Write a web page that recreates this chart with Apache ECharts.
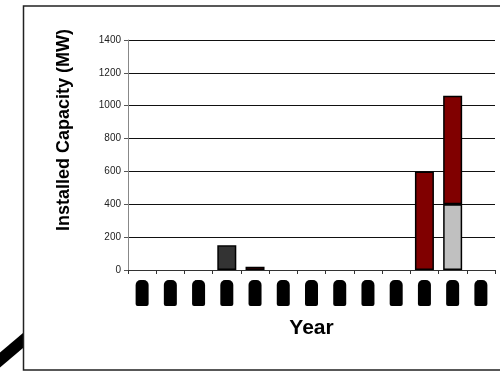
<!DOCTYPE html>
<html>
<head>
<meta charset="utf-8">
<script src="https://cdn.jsdelivr.net/npm/echarts@6/dist/echarts.min.js"></script>
<style>
  html, body { margin: 0; padding: 0; background: #fff; }
  #chart { width: 500px; height: 374px; }
</style>
</head>
<body>
<div id="chart"></div>
<script>
// Installed capacity per year, MW
const years = ['1995', '1996', '1997', '1998', '1999', '2000', '2001',
               '2002', '2003', '2004', '2005', '2006', '2007'];
const darkGrayValues  = [null, null, null, 150, null, null, null, null, null, null, null, null, null];
const lightGrayValues = [null, null, null, null, null, null, null, null, null, null, null, 400, null];
const redValues       = [null, null, null, null, 20, null, null, null, null, null, 600, 660, null];
const yTicks = { min: 0, max: 1400, step: 200 };

const chart = echarts.init(document.getElementById('chart'), null, { renderer: 'canvas' });

const barBase = {
  type: 'bar',
  stack: 'total',
  barWidth: 19,
  itemStyle: { borderColor: '#000', borderWidth: 1.5 }
};

chart.setOption({
  animation: false,
  backgroundColor: '#fff',
  textStyle: { fontFamily: 'Liberation Sans, Arial, sans-serif' },
  graphic: [
    {
      type: 'polygon',
      shape: { points: [[-5, 356.8], [23, 333], [23, 348], [-5, 371.8]] },
      style: { fill: '#000' }
    },
    {
      type: 'rect',
      shape: { x: 23.5, y: 6, width: 490, height: 364 },
      style: { fill: 'none', stroke: '#222', lineWidth: 1.5 },
      z: 100
    }
  ],
  grid: { left: 128, right: 5, top: 40, bottom: 104, containLabel: false },
  xAxis: {
    type: 'category',
    data: years,
    name: 'Year',
    nameLocation: 'middle',
    nameGap: 48,
    nameTextStyle: { fontSize: 21, fontWeight: 'bold', color: '#000' },
    axisLine: { lineStyle: { color: '#333', width: 1 } },
    axisTick: { show: true, length: 4, lineStyle: { color: '#333' } },
    axisLabel: {
      rotate: 90,
      margin: 10,
      interval: 0,
      formatter: v => '{b|' + v + '}',
      rich: {
        b: {
          width: 26,
          height: 13,
          fontSize: 9,
          color: '#000',
          backgroundColor: '#000',
          borderRadius: [2, 5, 5, 2]
        }
      }
    }
  },
  yAxis: {
    type: 'value',
    min: yTicks.min,
    max: yTicks.max,
    interval: yTicks.step,
    name: 'Installed Capacity (MW)',
    nameLocation: 'middle',
    nameGap: 55,
    nameTextStyle: { fontSize: 18, fontWeight: 'bold', color: '#000', padding: [0, 0, 0, 50] },
    axisLine: { show: true, lineStyle: { color: '#888', width: 1 } },
    axisTick: { show: true, length: 4, lineStyle: { color: '#555' } },
    axisLabel: { fontSize: 10, color: '#222', margin: 7, formatter: v => String(v) },
    splitLine: { show: true, lineStyle: { color: '#111', width: 1 } }
  },
  series: [
    Object.assign({}, barBase, { name: 'A', data: darkGrayValues,  itemStyle: Object.assign({}, barBase.itemStyle, { color: '#333333' }) }),
    Object.assign({}, barBase, { name: 'B', data: lightGrayValues, itemStyle: Object.assign({}, barBase.itemStyle, { color: '#c0c0c0' }) }),
    Object.assign({}, barBase, { name: 'C', data: redValues,       itemStyle: Object.assign({}, barBase.itemStyle, { color: '#800000' }) })
  ]
});
</script>
</body>
</html>
